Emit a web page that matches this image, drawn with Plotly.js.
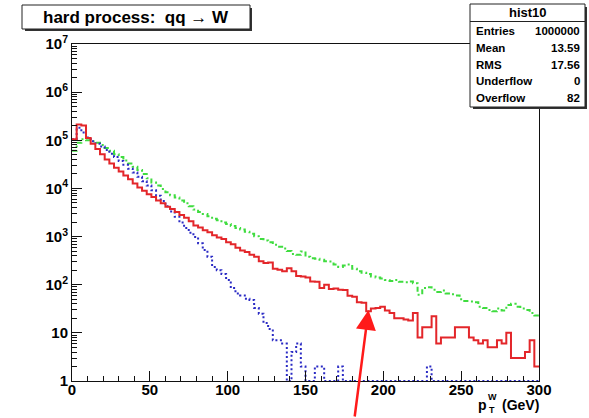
<!DOCTYPE html>
<html>
<head>
<meta charset="utf-8">
<script src="https://cdn.plot.ly/plotly-3.0.1.min.js"></script>
<style>
  html, body { margin: 0; padding: 0; background: #ffffff; }
  #chart { width: 589px; height: 418px; }
</style>
</head>
<body>
<div id="chart"></div>
<script>
// ---- Data (3 GeV bins from 0 to 300 GeV, counts per bin) ----
const xMin = 0;
const xMax = 300;
const nBins = 100;

// red solid histogram
const redCounts = [
  105000, 214000, 204000, 112000, 85100, 66100, 51300, 39800, 33100, 26900,
  22400, 18600, 15500, 12600, 10500, 8910, 7590, 6610, 5620, 4900,
  4170, 3720, 3240, 2820, 2450, 2090, 1700, 1550, 1350, 1230,
  1070, 955, 891, 759, 692, 589, 513, 479, 417, 380,
  309, 282, 288, 214, 204, 191, 219, 191, 151, 148,
  141, 117, 115, 85, 100, 81, 83, 79, 78, 59,
  56, 43, 42, 28, 32, 33, 35, 29, 26, 20,
  20, 19, 18, 26, 8, 13, 13, 22, 6, 8,
  8, 8, 13, 13, 13, 8, 7, 6, 7, 5,
  5, 7, 6, 10, 3, 3, 3, 4, 7, 2
];

// green dash-dotted histogram
const greenCounts = [
  60300, 89100, 104700, 100000, 95500, 89100, 79400, 69200, 60300, 51300,
  44700, 38000, 33100, 28200, 24000, 19950, 16200, 13200, 11500, 9770,
  8320, 7240, 6460, 5620, 4900, 4270, 3630, 3240, 2950, 2630,
  2340, 2190, 1950, 1820, 1660, 1510, 1410, 1260, 1150, 1020,
  891, 832, 759, 676, 617, 562, 501, 437, 417, 490,
  380, 355, 347, 331, 309, 302, 263, 234, 251, 263,
  214, 191, 178, 166, 148, 141, 135, 126, 120, 126,
  115, 112, 117, 107, 62, 85, 89, 79, 71, 76,
  66, 63, 60, 50, 46, 45, 43, 35, 33, 30,
  28, 32, 29, 38, 40, 35, 32, 30, 26, 23
];

// blue dotted histogram
const blueCounts = [
  104700, 182000, 144500, 114800, 95500, 85100, 74100, 63100, 52500, 44700,
  37200, 30900, 25700, 21400, 17400, 14100, 11500, 9120, 7080, 5500,
  4270, 3310, 2570, 1950, 1510, 1200, 977, 724, 525, 380,
  234, 200, 166, 126, 85, 66, 60, 51, 48, 33,
  25, 16, 12, 7, 7, 6, 0, 4, 6, 2,
  0, 0, 2, 2, 0, 0, 0, 2, 0, 0,
  0, 0, 0, 0, 0, 0, 0, 0, 0, 0,
  0, 0, 0, 0, 0, 0, 2, 0, 0, 0,
  0, 0, 0, 0, 0, 0, 0, 0, 0, 0,
  0, 0, 0, 0, 0, 0, 0, 0, 0, 0
];

const xTickVals = [0, 50, 100, 150, 200, 250, 300];
const xTickText = ['0', '50', '100', '150', '200', '250', '300'];
const yTickVals = [1, 10, 100, 1000, 10000, 100000, 1000000, 10000000];
const yTickText = ['1', '10', '10<sup>2</sup>', '10<sup>3</sup>', '10<sup>4</sup>', '10<sup>5</sup>', '10<sup>6</sup>', '10<sup>7</sup>'];

const histTitle = 'hard process:  qq \u2192 W';
const statsName = 'hist10';
const statsLabels = ['Entries', 'Mean', 'RMS', 'Underflow', 'Overflow'];
const statsValues = ['1000000', '13.59', '17.56', '0', '82'];

// ---- Build step traces ----
const binW = (xMax - xMin) / nBins;
const edges = [];
for (let i = 0; i <= nBins; i++) edges.push(xMin + i * binW);

function stepTrace(counts, color, dash, width) {
  // empty bins are drawn on the log-axis floor, as ROOT does
  const y = counts.map(v => Math.max(v, 1));
  y.push(y[y.length - 1]);
  return {
    type: 'scatter', mode: 'lines', x: edges.slice(), y: y,
    line: { shape: 'hv', color: color, width: width, dash: dash },
    hoverinfo: 'skip', showlegend: false
  };
}

const traces = [
  stepTrace(greenCounts, '#3fdc3f', '5px,3px,2px,3px', 2),
  stepTrace(blueCounts, '#2a2ac4', '2px,2.5px', 2),
  stepTrace(redCounts, '#e3262a', 'solid', 2)
];

// ---- Layout helpers (pixel -> paper) ----
const L = 72, R = 539, T = 44, B = 381;
const PW = R - L, PH = B - T;
const px = x => (x - L) / PW;
const py = y => (B - y) / PH;

const FONT = 'Liberation Sans, Arial, Helvetica, sans-serif';

const shapes = [
  // title box shadow + box
  { type: 'rect', xref: 'paper', yref: 'paper', x0: px(25), x1: px(252), y0: py(31), y1: py(8),
    fillcolor: '#333', line: { width: 0 }, layer: 'above' },
  { type: 'rect', xref: 'paper', yref: 'paper', x0: px(22), x1: px(250), y0: py(29), y1: py(5),
    fillcolor: '#ffffff', line: { color: '#222', width: 1 }, layer: 'above' },
  // stats box shadow + box
  { type: 'rect', xref: 'paper', yref: 'paper', x0: px(473), x1: px(587), y0: py(109), y1: py(7),
    fillcolor: '#333', line: { width: 0 }, layer: 'above' },
  { type: 'rect', xref: 'paper', yref: 'paper', x0: px(470), x1: px(585), y0: py(107), y1: py(4),
    fillcolor: '#ffffff', line: { color: '#222', width: 1 }, layer: 'above' },
  { type: 'line', xref: 'paper', yref: 'paper', x0: px(470), x1: px(585), y0: py(21.5), y1: py(21.5),
    line: { color: '#222', width: 1 }, layer: 'above' }
];

function txt(x, y, text, size, anchor) {
  return { xref: 'paper', yref: 'paper', x: px(x), y: py(y), text: text, showarrow: false,
    xanchor: anchor, yanchor: 'middle', borderpad: 0,
    font: { family: FONT, size: size, color: '#000', weight: 'bold' } };
}

const annotations = [
  txt(136, 17, histTitle, 17, 'center'),
  txt(527.5, 12.5, statsName, 13, 'center'),
  // x-axis title p_T^W (GeV), sub/superscript stacked as in ROOT
  txt(482.5, 405, 'p', 14, 'center'),
  txt(492.5, 397, 'W', 9, 'center'),
  txt(491.5, 410, 'T', 9, 'center'),
  txt(520, 405, '(GeV)', 14, 'center'),
  // red arrow
  { xref: 'paper', yref: 'paper', x: px(368.5), y: py(310), ax: -14, ay: 112, text: '',
    showarrow: true, arrowhead: 2, arrowsize: 1.6, arrowwidth: 2.5, arrowcolor: '#ff1a1a' }
];
statsLabels.forEach((lab, i) => {
  const yy = 31 + i * 16.8;
  annotations.push(txt(475, yy, lab, 11.5, 'left'));
  annotations.push(txt(581, yy, statsValues[i], 11.5, 'right'));
});

const layout = {
  width: 589, height: 418,
  margin: { l: L, r: 589 - R, t: T, b: 418 - B, pad: 0 },
  paper_bgcolor: '#ffffff', plot_bgcolor: '#ffffff',
  showlegend: false,
  xaxis: {
    range: [xMin, xMax], autorange: false, showgrid: false, zeroline: false,
    showline: true, linecolor: '#111', linewidth: 1, mirror: true,
    ticks: 'inside', ticklen: 10, tickcolor: '#111', tickwidth: 1,
    tickvals: xTickVals, ticktext: xTickText, ticklabelstandoff: -5,
    minor: { dtick: 10, ticks: 'inside', ticklen: 5, tickcolor: '#111', showgrid: false },
    tickfont: { family: FONT, size: 15, color: '#000', weight: 'bold' }
  },
  yaxis: {
    type: 'log', range: [0, 7], autorange: false, showgrid: false, zeroline: false,
    showline: true, linecolor: '#111', linewidth: 1, mirror: true,
    ticks: 'inside', ticklen: 10, tickcolor: '#111', tickwidth: 1,
    tickvals: yTickVals, ticktext: yTickText,
    minor: { dtick: 'D1', ticks: 'inside', ticklen: 5, tickcolor: '#111', showgrid: false },
    tickfont: { family: FONT, size: 15, color: '#000', weight: 'bold' }
  },
  shapes: shapes,
  annotations: annotations
};

Plotly.newPlot('chart', traces, layout, { staticPlot: true, displayModeBar: false });
</script>
</body>
</html>
